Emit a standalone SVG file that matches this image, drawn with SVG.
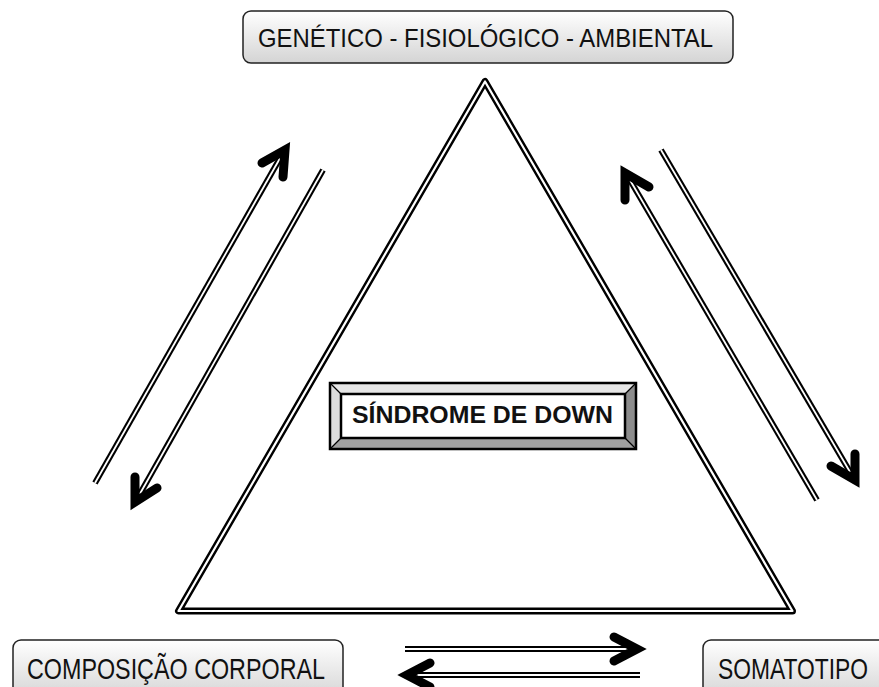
<svg xmlns="http://www.w3.org/2000/svg" width="879" height="687" viewBox="0 0 879 687">
<defs>
<linearGradient id="g" x1="0" y1="0" x2="0" y2="1">
<stop offset="0" stop-color="#ffffff"/>
<stop offset="1" stop-color="#d4d4d4"/>
</linearGradient>
<style>
.box{fill:url(#g);stroke:#222;stroke-width:1.5}
.lbl{font-family:"Liberation Sans",Arial,sans-serif;fill:#111}
.dlo{fill:none;stroke:#000;stroke-width:6}
.dli{fill:none;stroke:#fff;stroke-width:1.8}
.head{fill:none;stroke:#000;stroke-width:9;stroke-linecap:round;stroke-linejoin:miter}
</style>
</defs>
<rect width="879" height="687" fill="#fff"/>

<g id="triangle">
<polygon points="485,81.5 178.5,611 792.5,611" fill="none" stroke="#000" stroke-width="7" stroke-linejoin="round"/>
<polygon points="485,81.5 178.5,611 792.5,611" fill="none" stroke="#fff" stroke-width="2.2" stroke-linejoin="round"/>
</g>

<g id="connectors">
<line class="dlo" x1="95" y1="483" x2="283" y2="153"/>
<line class="dli" x1="95" y1="483" x2="283" y2="153"/>
<path class="head" d="M262,163 L285,150 L283,177"/>

<line class="dlo" x1="323" y1="170" x2="137" y2="499"/>
<line class="dli" x1="323" y1="170" x2="137" y2="499"/>
<path class="head" d="M135,477 L135,502 L157,488"/>

<line class="dlo" x1="817" y1="500" x2="627" y2="175"/>
<line class="dli" x1="817" y1="500" x2="627" y2="175"/>
<path class="head" d="M625,200 L625,173 L649,187"/>

<line class="dlo" x1="661" y1="150" x2="853" y2="477"/>
<line class="dli" x1="661" y1="150" x2="853" y2="477"/>
<path class="head" d="M855,454 L855,480 L831,466"/>

<line class="dlo" x1="405" y1="649" x2="634" y2="649"/>
<line class="dli" x1="405" y1="649" x2="634" y2="649"/>
<path class="head" d="M614,637 L637,649 L614,661"/>

<line class="dlo" x1="410" y1="675" x2="640" y2="675"/>
<line class="dli" x1="410" y1="675" x2="640" y2="675"/>
<path class="head" d="M430,663 L407,675 L430,687"/>
</g>

<g id="node-top">
<rect class="box" x="243" y="11" width="490" height="52" rx="8"/>
<text class="lbl" x="258" y="47" font-size="25" textLength="455" lengthAdjust="spacingAndGlyphs">GENÉTICO - FISIOLÓGICO - AMBIENTAL</text>
</g>

<g id="node-center">
<rect x="330" y="383" width="306" height="66" fill="#c8c8c8" stroke="#000" stroke-width="2"/>
<polygon points="330,383 636,383 625,394 341,394" fill="#e6e6e6"/>
<polygon points="330,383 341,394 341,438 330,449" fill="#dcdcdc"/>
<polygon points="636,383 625,394 625,438 636,449" fill="#8c8c8c"/>
<polygon points="330,449 341,438 625,438 636,449" fill="#a0a0a0"/>
<rect x="330" y="383" width="306" height="66" fill="none" stroke="#000" stroke-width="2.5"/>
<rect x="341" y="394" width="284" height="44" fill="#fff" stroke="#000" stroke-width="2.5"/>
<g stroke="#000" stroke-width="1.2">
<line x1="330" y1="383" x2="341" y2="394"/>
<line x1="636" y1="383" x2="625" y2="394"/>
<line x1="330" y1="449" x2="341" y2="438"/>
<line x1="636" y1="449" x2="625" y2="438"/>
</g>
<text class="lbl" x="352" y="423" font-size="23" font-weight="bold" textLength="261" lengthAdjust="spacingAndGlyphs">SÍNDROME DE DOWN</text>
</g>

<g id="node-composicao">
<rect class="box" x="13" y="640" width="330" height="60" rx="8"/>
<text class="lbl" x="27" y="679" font-size="30" textLength="298" lengthAdjust="spacingAndGlyphs">COMPOSIÇÃO CORPORAL</text>
</g>

<g id="node-somatotipo">
<rect class="box" x="703" y="640" width="190" height="60" rx="8"/>
<text class="lbl" x="718" y="679" font-size="30" textLength="150" lengthAdjust="spacingAndGlyphs">SOMATOTIPO</text>
</g>
</svg>
